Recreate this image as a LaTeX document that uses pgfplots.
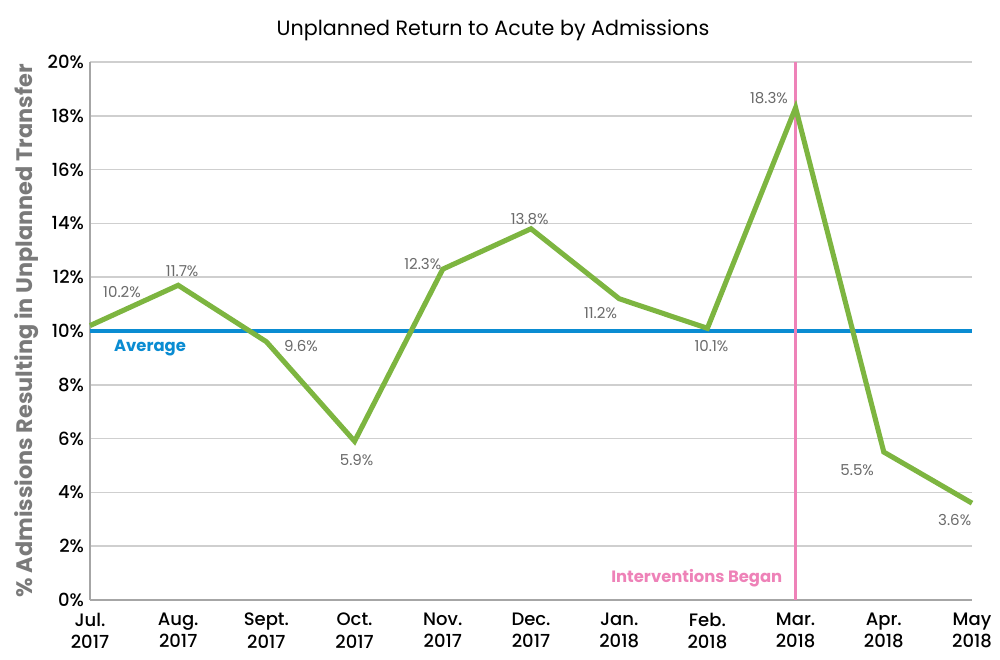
\documentclass[border=0pt]{standalone}
\usepackage{fontspec}
\setmainfont{Poppins}[UprightFont=* Medium, BoldFont=* Bold]
\newfontfamily\regfont{Poppins}
\usepackage{pgfplots}
\usepackage{pgfplotstable}
\pgfplotsset{compat=1.18}

\definecolor{linegreen}{HTML}{7DB540}
\definecolor{avgblue}{HTML}{0A8CD2}
\definecolor{ivpink}{HTML}{EE82B8}
\definecolor{labelgray}{HTML}{6A6A6A}
\definecolor{axisgray}{HTML}{A6A6A6}
\definecolor{gridgray}{HTML}{CFCFCF}
\definecolor{titlegray}{HTML}{7A7A7A}

% month index, share of admissions (%), label offsets (pt)
\pgfplotstableread{
x  y     dx     dy
0  10.2  24     25
1  11.7  3      10.5
2  9.6   26     -3
3  5.9   1.5    -14
4  12.3  -15    4
5  13.8  -1     7.5
6  11.2  -14    -10.5
7  10.1  3      -13.5
8  18.3  -20    7.5
9  5.5   -20    -13.5
10 3.6   -13    -13
}\admissions

\begin{document}
\begin{tikzpicture}
\useasboundingbox (0,0) rectangle (750pt,495pt);
\node[font=\regfont\fontsize{15.5}{18}\selectfont, anchor=center] at (369.75pt,472pt)
  {Unplanned Return to Acute by Admissions};
\begin{axis}[
  at={(67.5pt,45pt)}, anchor=south west,
  scale only axis, width=661.5pt, height=403.5pt,
  xmin=0, xmax=10, ymin=0, ymax=20,
  axis x line*=bottom, axis y line*=left,
  axis line style={axisgray, line width=1.9pt},
  every outer x axis line/.append style={-},
  every outer y axis line/.append style={-},
  ytick={0,2,...,20},
  yticklabel={\pgfmathprintnumber{\tick}\%},
  xtick={0,...,10},
  xticklabels={{Jul.\\2017},{Aug.\\2017},{Sept.\\2017},{Oct.\\2017},{Nov.\\2017},{Dec.\\2017},{Jan.\\2018},{Feb.\\2018},{Mar.\\2018},{Apr.\\2018},{May\\2018}},
  x tick label style={align=center, font=\fontsize{13.5}{17}\selectfont, yshift=-6pt},
  y tick label style={font=\fontsize{13.5}{16}\selectfont, xshift=-1pt},
  major tick length=0pt,
  ymajorgrids, grid style={gridgray, line width=1.1pt},
  /pgf/number format/assume math mode=true,
  ylabel={\% Admissions Resulting in Unplanned Transfer},
  ylabel style={font=\fontsize{16.8}{19}\selectfont\bfseries, text=titlegray, at={(ticklabel cs:0.5)}, anchor=south, xshift=0pt},
  clip=false,
]
% average level
\addplot[avgblue, line width=3pt] coordinates {(0,10) (10,10)};
% start of interventions
\addplot[ivpink, line width=2.2pt] coordinates {(8,0) (8,20)};
% monthly series
\addplot[linegreen, line width=3.8pt, line join=miter, miter limit=10] table[x=x, y=y] {\admissions};
% value labels
\addplot[draw=none, mark=none,
  nodes near coords={\pgfmathprintnumber[fixed,fixed zerofill,precision=1]{\pgfplotspointmeta}\%},
  point meta=explicit,
  visualization depends on={\thisrow{dx} \as \dx},
  visualization depends on={\thisrow{dy} \as \dy},
  every node near coord/.append style={anchor=center, xshift=\dx pt, yshift=\dy pt,
    font=\regfont\fontsize{11.3}{13}\selectfont, text=labelgray},
] table[x=x, y=y, meta=y] {\admissions};
\node[font=\fontsize{12.3}{14}\selectfont\bfseries, text=avgblue] at (axis cs:0.68,9.37) {Average};
\node[font=\fontsize{12.3}{14}\selectfont\bfseries, text=ivpink] at (axis cs:6.88,0.82) {Interventions Began};
\end{axis}
\end{tikzpicture}
\end{document}
